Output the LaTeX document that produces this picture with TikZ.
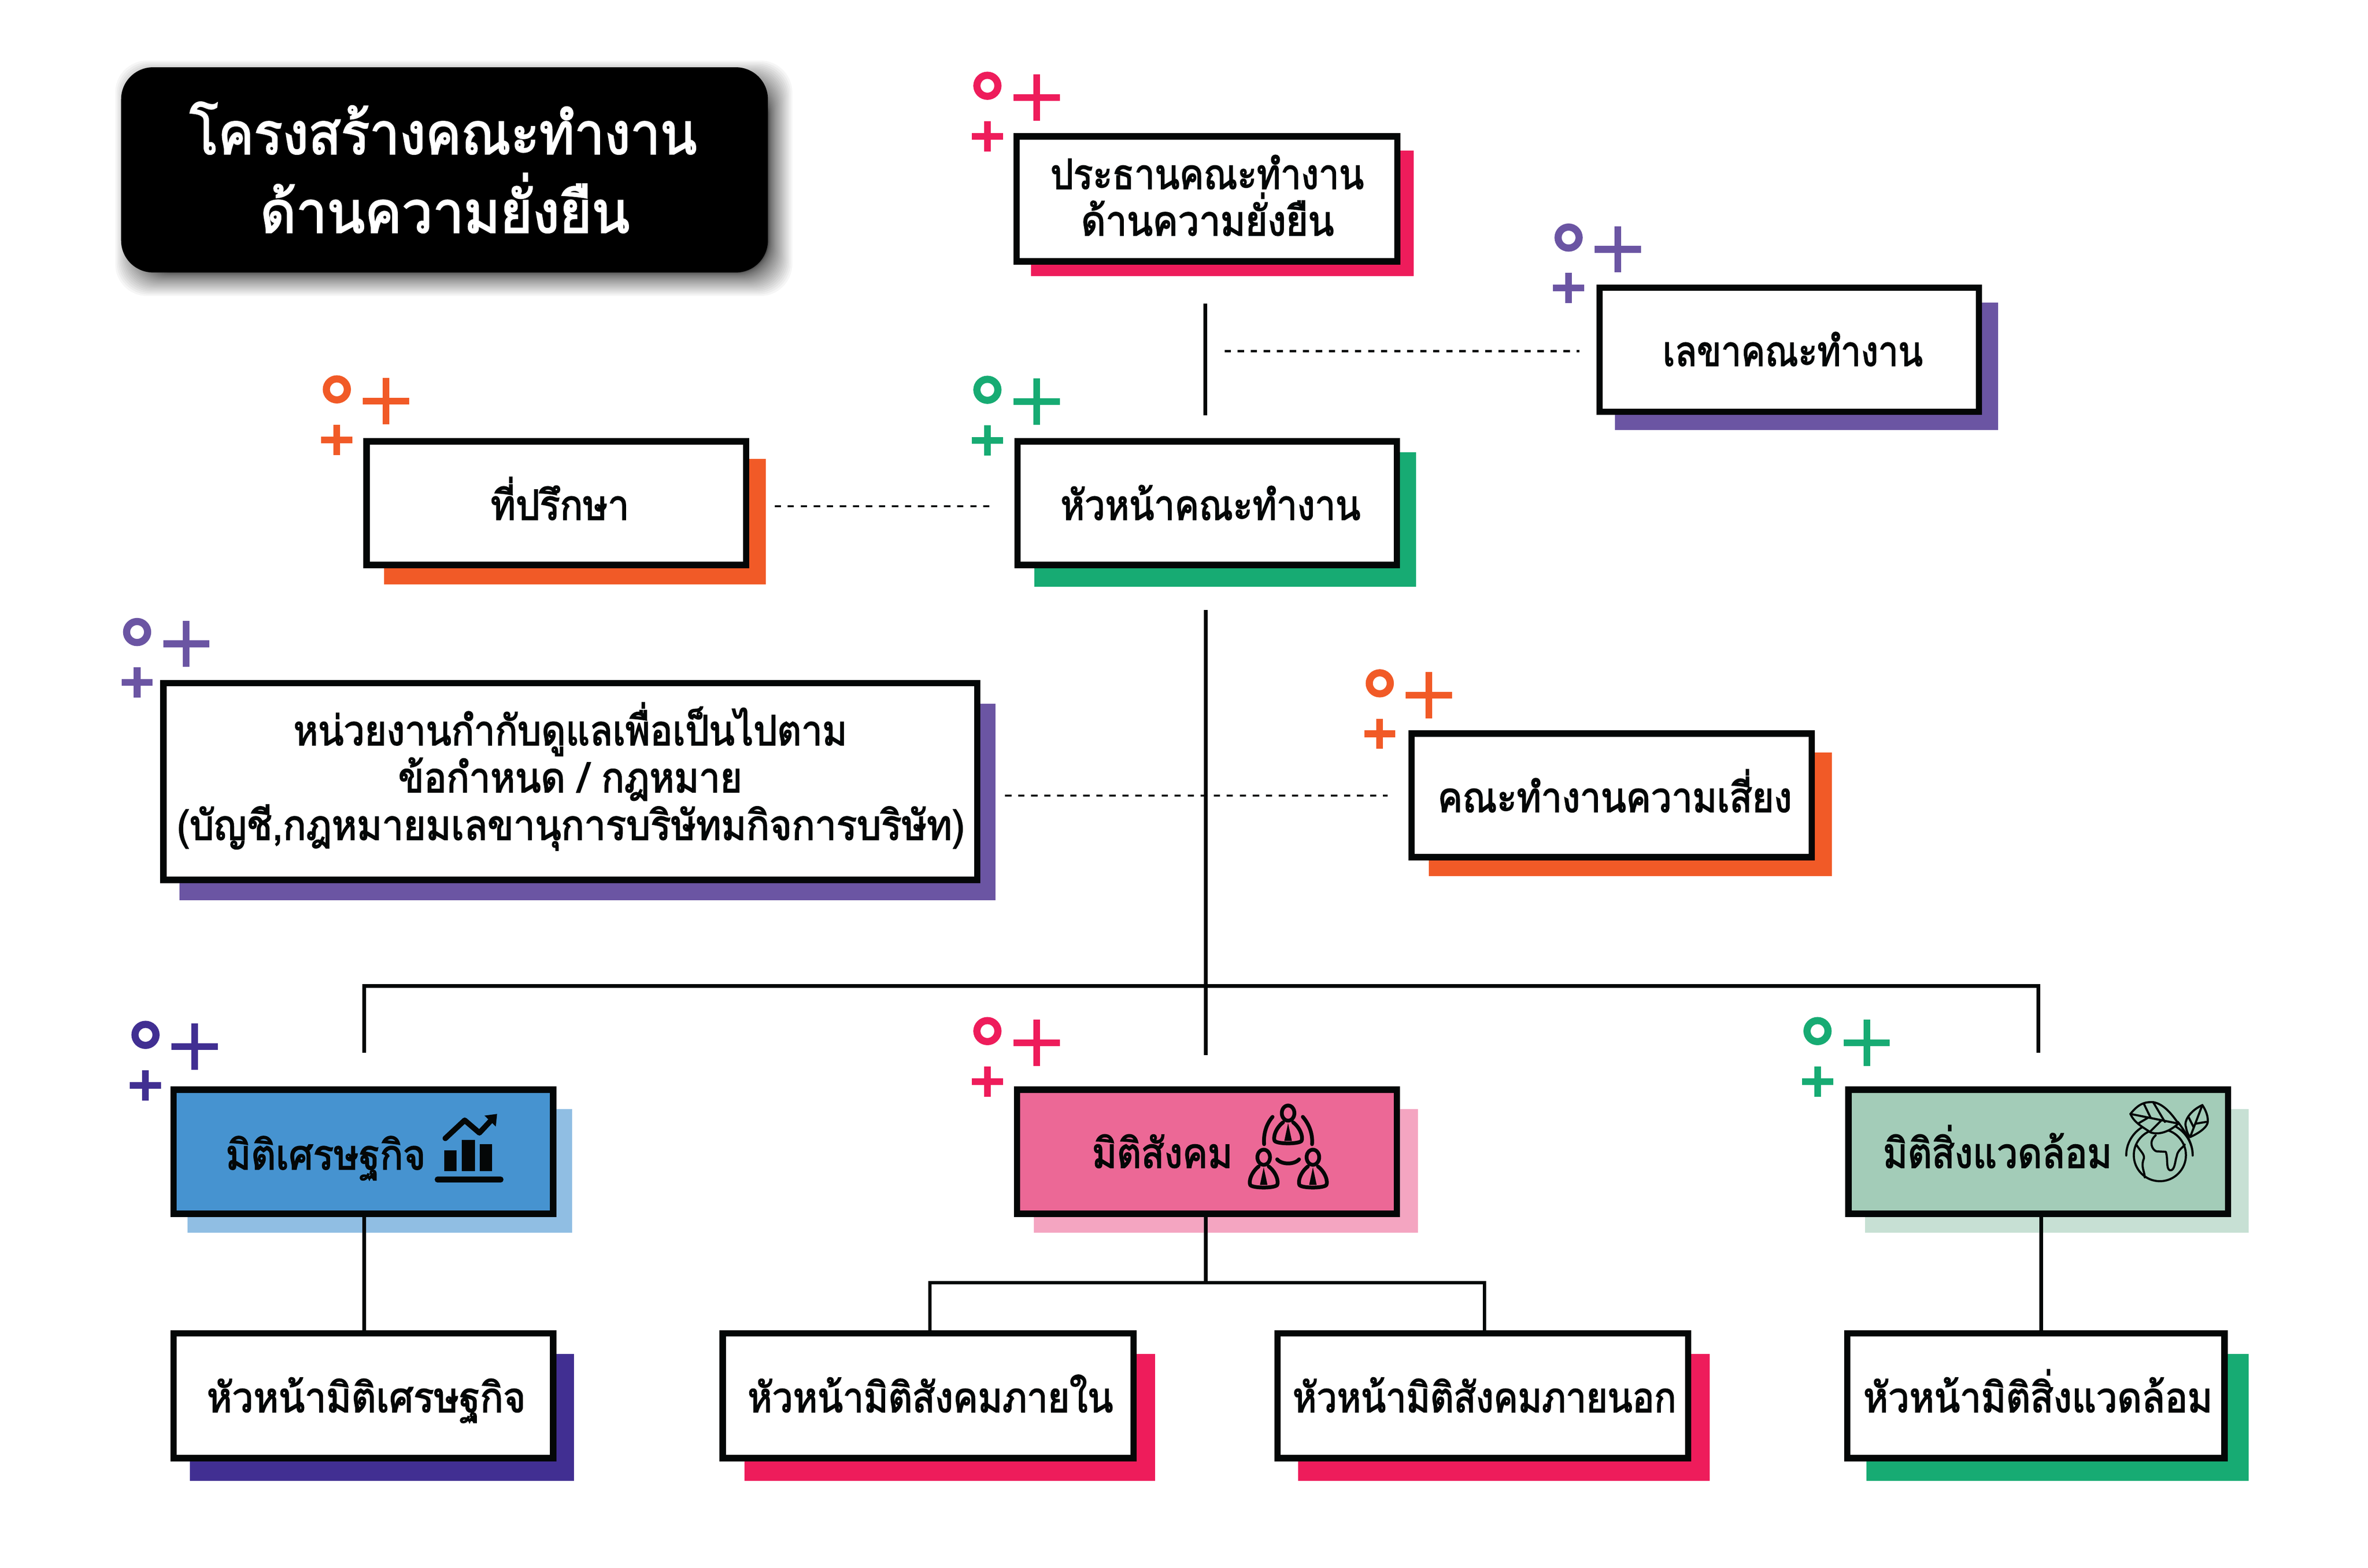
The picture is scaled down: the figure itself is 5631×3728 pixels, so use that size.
\documentclass[tikz,border=0pt]{standalone}
\usepackage{fontspec}
\usepackage{graphicx}
\newfontfamily\thaifont[Script=Thai,FakeBold=2.5]{Loma}
\newdimen\pxu \pxu=0.01cm
\definecolor{ink}{HTML}{040707}
\definecolor{cred}{HTML}{EE1C5B}
\definecolor{cgreen}{HTML}{17AB73}
\definecolor{cpurple}{HTML}{6B55A3}
\definecolor{corange}{HTML}{F15A27}
\definecolor{cdeep}{HTML}{412F92}
\definecolor{cblue}{HTML}{4693D0}
\definecolor{cblueL}{HTML}{90BEE3}
\definecolor{cpink}{HTML}{EC6896}
\definecolor{cpinkL}{HTML}{F4A5C1}
\definecolor{csage}{HTML}{A3CCB8}
\definecolor{csageL}{HTML}{C7E0D4}
\newcommand\bodyfont{\thaifont\fontsize{28}{28}\selectfont\color{ink}}
\newcommand\titlefont{\thaifont\fontsize{39}{39}\selectfont\color{white}}
% one text line: left x, right x, baseline y, text (all in reference pixels)
\newcommand\bl[4]{\pgfmathsetmacro\tw{#2-#1}\pgfmathsetmacro\tdx{(#1+#2)-2*\cx}\pgfmathsetmacro\tdy{\cy-(#3)}%
  \makebox[0pt]{\hspace*{\tdx\pxu}\raisebox{\tdy\pxu}[0pt][0pt]{\resizebox{\tw\pxu}{\height}{#4}}}}
% name, x0,y0,x1,y1, shadow colour, shadow corner, shadow corner, fill
\newcommand\mybox[9]{\fill[#6] (#7) rectangle (#8);%
  \pgfmathsetmacro\cx{(#2+#4)/2}\pgfmathsetmacro\cy{(#3+#5)/2}%
  \pgfmathsetmacro\mw{#4-#2-15}\pgfmathsetmacro\mh{#5-#3-15}%
  \node[boxn,fill=#9,minimum width=\mw\pxu,minimum height=\mh\pxu] (#1) at (\cx,\cy) {\boxbody};}
\newcommand\deco[3]{\begin{scope}[shift={(#1,#2)},draw=#3,fill=#3]
  \draw[line width=17\pxu] (0,0) circle (25);
  \fill (62,20) rectangle (172,36); \fill (109,-27) rectangle (125,83);
  \fill (-37,112) rectangle (37,128); \fill (-8,84) rectangle (8,156);
\end{scope}}
\tikzset{
  boxn/.style={draw=ink,line width=15\pxu,inner sep=0pt,outer sep=0pt,font=\bodyfont},
  solidln/.style={draw=ink,line width=9\pxu},
  thinln/.style={draw=ink,line width=8\pxu},
  dashln/.style={draw=ink,line width=5\pxu,dash pattern=on 15\pxu off 16\pxu},
  iconln/.style={draw=ink,line cap=round,line join=round},
  person/.pic={
    \draw[iconln,line width=9\pxu] (0,0) ellipse (15 and 18);
    \draw[iconln,line width=9\pxu] (-12,22) .. controls (-30,36) and (-36,58) .. (-32,66) .. controls (-26,74) and (26,74) .. (32,66) .. controls (36,58) and (30,36) .. (12,22);
    \fill[ink] (0,24) -- (-9,66) -- (9,66) -- cycle;
  }
}
\begin{document}
\begin{tikzpicture}[x=0.01cm,y=-0.01cm]
\useasboundingbox (0,0) rectangle (5631,3728);
\fill[white] (0,0) rectangle (5631,3728);
% title with soft shadow
\foreach \i in {0,...,29}{
  \pgfmathsetmacro\ins{20-56*(1-\i/29)*(1-\i/29)}
  \fill[black,opacity=0.035,rounded corners=76\pxu] (288+22+\ins,160+20+\ins) rectangle (1826+22-\ins,648+20-\ins);
}
\def\cx{1057}\def\cy{404}
\node[fill=black,draw=none,rounded corners=76\pxu,minimum width=1538\pxu,minimum height=488\pxu,inner sep=0pt,font=\titlefont] (title) at (1057,404)
  {\bl{451}{1657}{366}{โครงสร้างคณะทำงาน}\bl{619}{1497}{553}{ด้านความยั่งยืน}};
% chair
\def\boxbody{\bl{2498}{3243}{449}{ประธานคณะทำงาน}\bl{2571}{3172}{560}{ด้านความยั่งยืน}}
\mybox{chair}{2410}{317}{3330}{629}{cred}{2452,358}{3362,657}{white}
\deco{2348}{204}{cred}
% secretary
\def\boxbody{\bl{3954}{4572}{870}{เลขาคณะทำงาน}}
\mybox{secretary}{3796}{677}{4713}{987}{cpurple}{3840,720}{4751,1023}{white}
\deco{3730}{565}{cpurple}
% adviser
\def\boxbody{\bl{1167}{1496}{1236}{ที่ปรึกษา}}
\mybox{adviser}{864}{1042}{1782}{1351}{corange}{913,1091}{1821,1390}{white}
\deco{801}{926}{corange}
% head
\def\boxbody{\bl{2522}{3235}{1236}{หัวหน้าคณะทำงาน}}
\mybox{head}{2412}{1042}{3329}{1351}{cgreen}{2460,1075}{3367,1395}{white}
\deco{2348}{927}{cgreen}
% regulators
\def\boxbody{\bl{698}{2014}{1772}{หน่วยงานกำกับดูแลเพื่อเป็นไปตาม}\bl{947}{1765}{1884}{ข้อกำหนด / กฎหมาย}\bl{421}{2294}{1997}{(บัญชี,กฎหมายมเลขานุการบริษัทมกิจการบริษัท)}}
\mybox{regulator}{381}{1617}{2331}{2100}{cpurple}{427,1674}{2367,2141}{white}
\deco{326}{1503}{cpurple}
% risk
\def\boxbody{\bl{3419}{4261}{1931}{คณะทำงานความเสี่ยง}}
\mybox{risk}{3349}{1737}{4316}{2046}{corange}{3398,1790}{4356,2084}{white}
\deco{3281}{1625}{corange}
% dimensions
\def\boxbody{\bl{537}{1012}{2781}{มิติเศรษฐกิจ}}
\mybox{dimE}{405}{2584}{1323}{2894}{cblueL}{446,2637}{1360,2931}{cblue}
\deco{346}{2461}{cdeep}
\def\boxbody{\bl{2597}{2931}{2777}{มิติสังคม}}
\mybox{dimS}{2411}{2584}{3329}{2894}{cpinkL}{2459,2637}{3372,2931}{cpink}
\deco{2348}{2452}{cred}
\def\boxbody{\bl{4478}{5022}{2777}{มิติสิ่งแวดล้อม}}
\mybox{dimV}{4388}{2584}{5306}{2894}{csageL}{4435,2637}{5347,2931}{csage}
\deco{4322}{2452}{cgreen}
% leaders
\def\boxbody{\bl{492}{1250}{3358}{หัวหน้ามิติเศรษฐกิจ}}
\mybox{leadE}{405}{3163}{1323}{3475}{cdeep}{452,3220}{1365,3522}{white}
\def\boxbody{\bl{1778}{2647}{3358}{หัวหน้ามิติสังคมภายใน}}
\mybox{leadI}{1711}{3163}{2703}{3475}{cred}{1770,3220}{2747,3522}{white}
\def\boxbody{\bl{3074}{3986}{3358}{หัวหน้ามิติสังคมภายนอก}}
\mybox{leadO}{3030}{3163}{4022}{3475}{cred}{3087,3220}{4066,3522}{white}
\def\boxbody{\bl{4431}{5261}{3358}{หัวหน้ามิติสิ่งแวดล้อม}}
\mybox{leadV}{4385}{3163}{5297}{3475}{cgreen}{4438,3220}{5347,3522}{white}
% free ends of connectors
\coordinate (chairEnd) at (2866,722);
\coordinate (headEnd) at (2866,988);
\coordinate (trunkTop) at (2867,1451);
\coordinate (trunkEnd) at (2867,2509);
\coordinate (busMid) at (2867,2345);
\coordinate (busE) at (866,2503);
\coordinate (busV) at (4847,2503);
\coordinate (secL) at (2912,835);
\coordinate (secR) at (3756,835);
\coordinate (advL) at (1842,1204);
\coordinate (advR) at (2365,1204);
\coordinate (regL) at (2390,1892);
\coordinate (regR) at (3300,1892);
\coordinate (busS) at (2867,3050);
\coordinate (lineE) at (866,2894);
\coordinate (lineV) at (4854,2894);
% connectors
\draw[solidln] (chairEnd) -- (headEnd);
\draw[solidln] (trunkTop) -- (trunkEnd);
\draw[solidln] (busE) |- (busMid) -| (busV);
\draw[dashln] (secL) -- (secR);
\draw[dashln] (advL) -- (advR);
\draw[dashln] (regL) -- (regR);
\draw[solidln] (lineE) -- (leadE.north -| lineE);
\draw[solidln] (dimS.south -| busS) -- (busS);
\draw[thinln] ([xshift=4\pxu]leadI.north) |- (busS) -| ([xshift=4\pxu]leadO.north);
\draw[solidln] (lineV) -- (leadV.north -| lineV);
% icon: chart
\fill[ink] (1056,2736) rectangle (1086,2785);
\fill[ink] (1098,2711) rectangle (1129,2785);
\fill[ink] (1141,2721) rectangle (1170,2785);
\fill[ink,rounded corners=6\pxu] (1034,2798) rectangle (1197,2812);
\draw[iconln,line width=13\pxu,line cap=round] (1059,2707) -- (1105,2664) -- (1140,2694) -- (1168,2664);
\fill[ink] (1152,2653) -- (1182,2649) -- (1179,2679) -- cycle;
% icon: people
\pic at (3063,2647) {person};
\pic at (3005,2752) {person};
\pic at (3122,2752) {person};
\draw[iconln,line width=9\pxu] (3026,2656) .. controls (3012,2672) and (3004,2695) .. (3006,2721);
\draw[iconln,line width=9\pxu] (3098,2656) .. controls (3112,2672) and (3122,2695) .. (3120,2721);
\draw[iconln,line width=9\pxu] (3037,2757) .. controls (3048,2770) and (3078,2770) .. (3089,2757);
% icon: globe
\begin{scope}[iconln,line width=5\pxu]
\draw (5135,2748) ++(180:79) arc[start angle=180,end angle=360,radius=79] .. controls (5215,2718) and (5195,2690) .. (5179,2668);
\draw (5136,2747) circle (62);
\fill[csage] (5066,2649) .. controls (5085,2625) and (5100,2620) .. (5120,2621) .. controls (5145,2625) and (5165,2650) .. (5180,2672) .. controls (5160,2690) and (5135,2700) .. (5114,2693) -- (5090,2680) -- cycle;
\draw (5066,2649) .. controls (5085,2625) and (5100,2620) .. (5120,2621) .. controls (5145,2625) and (5165,2650) .. (5180,2672) .. controls (5160,2690) and (5135,2700) .. (5114,2693) .. controls (5095,2680) and (5075,2670) .. (5066,2649);
\draw (5066,2649) -- (5180,2672);
\draw (5098,2625) -- (5114,2658);
\draw (5120,2621) -- (5148,2668);
\draw (5084,2672) -- (5108,2658);
\draw (5112,2692) -- (5140,2664);
\draw (5237,2628) .. controls (5210,2640) and (5192,2665) .. (5198,2680) .. controls (5200,2692) and (5204,2700) .. (5208,2704) .. controls (5228,2695) and (5252,2680) .. (5250,2664) .. controls (5250,2650) and (5242,2635) .. (5237,2628);
\draw (5237,2628) -- (5208,2704);
\draw (5204,2656) -- (5216,2680);
\draw (5222,2672) -- (5246,2668);
\draw (5126,2700) .. controls (5108,2715) and (5118,2735) .. (5128,2738) -- (5150,2739) .. controls (5156,2755) and (5150,2780) .. (5160,2783) .. controls (5172,2785) and (5172,2760) .. (5176,2750) .. controls (5178,2735) and (5190,2730) .. (5195,2722);
\draw (5080,2722) .. controls (5090,2738) and (5100,2745) .. (5098,2755) .. controls (5090,2775) and (5100,2785) .. (5100,2800);
\end{scope}
\end{tikzpicture}
\end{document}
